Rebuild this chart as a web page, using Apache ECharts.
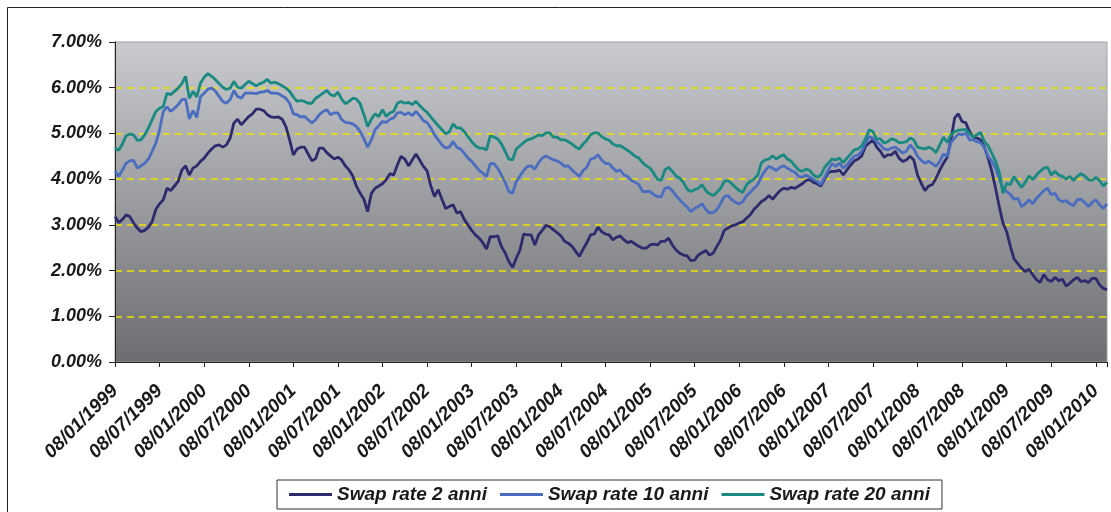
<!doctype html>
<html>
<head>
<meta charset="UTF-8">
<title>Swap rate</title>
<script src="https://cdn.jsdelivr.net/npm/echarts@6/dist/echarts.min.js"></script>
<style>
html, body { margin:0; padding:0; background:#fff; }
#chart { width:1111px; height:512px; }
</style>
</head>
<body>
<div id="chart"></div>
<script type="text/javascript">
// tick labels, one every 6 months (x unit = half year)
var tickLabels = ['08/01/1999','08/07/1999','08/01/2000','08/07/2000','08/01/2001','08/07/2001',
	'08/01/2002','08/07/2002','08/01/2003','08/07/2003','08/01/2004','08/07/2004','08/01/2005',
	'08/07/2005','08/01/2006','08/07/2006','08/01/2007','08/07/2007','08/01/2008','08/07/2008',
	'08/01/2009','08/07/2009','08/01/2010'];
var seriesNames = ['Swap rate 2 anni', 'Swap rate 10 anni', 'Swap rate 20 anni'];
// values read every half month (12 per tick interval)
var pointsPerTick = 12;

var swap2 = [3.18,3.05,3.12,3.22,3.18,3.04,2.93,2.85,2.88,2.95,
	3.07,3.34,3.46,3.55,3.80,3.75,3.85,3.95,4.20,4.29,
	4.09,4.24,4.29,4.39,4.46,4.57,4.66,4.73,4.75,4.70,
	4.75,4.90,5.23,5.31,5.19,5.28,5.37,5.43,5.53,
	5.53,5.50,5.41,5.36,5.35,5.36,5.31,5.15,4.86,4.53,
	4.66,4.70,4.70,4.55,4.40,4.45,4.68,4.68,4.58,4.51,
	4.44,4.48,4.42,4.29,4.20,4.07,3.84,3.69,3.56,3.29,
	3.69,3.80,3.85,3.90,3.99,4.12,4.09,4.31,
	4.50,4.44,4.29,4.42,4.55,4.42,4.28,4.18,3.85,3.62,
	3.77,3.56,3.36,3.40,3.44,3.26,3.29,3.12,3.00,2.88,
	2.78,2.71,2.61,2.47,2.74,2.74,2.76,2.53,2.39,2.20,
	2.07,2.27,2.45,2.80,2.78,2.78,2.56,2.78,2.88,
	2.99,2.96,2.89,2.83,2.76,2.64,2.60,2.53,2.42,2.31,
	2.47,2.61,2.78,2.80,2.95,2.85,2.80,2.78,2.67,2.73,
	2.76,2.67,2.61,2.64,2.58,2.53,2.49,2.49,2.56,2.58,
	2.56,2.64,2.64,2.71,2.56,2.45,2.38,2.34,
	2.32,2.22,2.23,2.34,2.39,2.44,2.34,2.38,2.53,2.67,
	2.88,2.93,2.98,3.00,3.04,3.07,3.15,3.22,3.34,3.42,
	3.51,3.56,3.64,3.56,3.66,3.75,3.80,3.78,3.82,3.80,
	3.85,3.90,3.97,3.99,3.93,3.90,3.85,4.00,4.15,
	4.17,4.17,4.20,4.09,4.20,4.31,4.40,4.44,4.51,4.72,
	4.79,4.86,4.70,4.61,4.48,4.53,4.53,4.61,4.46,4.39,
	4.42,4.50,4.42,4.09,3.91,3.75,3.85,3.88,4.02,4.20,
	4.35,4.48,4.86,5.34,5.43,5.26,5.23,5.04,
	4.92,4.90,4.86,4.70,4.46,4.17,3.80,3.40,3.04,2.85,
	2.53,2.25,2.15,2.05,1.98,2.03,1.91,1.80,1.74,1.91,
	1.80,1.76,1.85,1.78,1.81,1.66,1.72,1.80,1.85,1.76,
	1.78,1.74,1.83,1.83,1.69,1.61,1.58];

var swap10 = [4.17,4.06,4.20,4.35,4.40,4.41,4.24,4.29,4.35,4.44,
	4.61,4.79,5.08,5.48,5.58,5.48,5.55,5.63,5.74,5.75,
	5.32,5.50,5.35,5.80,5.88,5.97,5.99,5.93,5.81,5.70,
	5.66,5.74,5.94,5.81,5.77,5.88,5.88,5.88,5.87,
	5.90,5.91,5.94,5.88,5.88,5.87,5.82,5.77,5.66,5.43,
	5.41,5.36,5.37,5.30,5.23,5.30,5.41,5.48,5.52,5.41,
	5.45,5.45,5.30,5.24,5.23,5.21,5.15,5.04,4.88,4.70,
	4.86,5.08,5.17,5.26,5.24,5.31,5.34,5.45,
	5.46,5.41,5.45,5.39,5.48,5.39,5.28,5.24,5.12,4.97,
	4.86,4.75,4.68,4.70,4.82,4.70,4.66,4.57,4.46,4.39,
	4.29,4.19,4.13,4.06,4.34,4.34,4.24,4.09,3.93,3.73,
	3.69,3.95,4.07,4.19,4.28,4.29,4.22,4.36,4.46,
	4.51,4.46,4.42,4.40,4.35,4.28,4.29,4.20,4.13,4.06,
	4.19,4.26,4.44,4.46,4.53,4.42,4.34,4.34,4.24,4.17,
	4.20,4.09,4.06,3.97,3.93,3.88,3.73,3.73,3.73,3.66,
	3.62,3.61,3.80,3.82,3.75,3.64,3.55,3.46,
	3.39,3.29,3.36,3.40,3.46,3.34,3.26,3.27,3.33,3.47,
	3.62,3.64,3.55,3.49,3.46,3.51,3.64,3.71,3.80,3.88,
	4.06,4.19,4.28,4.24,4.19,4.26,4.29,4.24,4.19,4.15,
	4.06,4.04,4.09,4.04,4.00,3.95,3.88,4.04,4.20,
	4.34,4.28,4.35,4.24,4.31,4.42,4.50,4.53,4.61,4.79,
	4.93,4.90,4.82,4.75,4.66,4.64,4.68,4.70,4.64,4.57,
	4.61,4.75,4.66,4.50,4.41,4.35,4.39,4.34,4.28,4.39,
	4.55,4.50,4.80,4.90,4.99,4.97,5.01,4.86,
	4.86,4.82,4.79,4.70,4.50,4.39,4.24,4.02,3.80,3.73,
	3.66,3.56,3.58,3.40,3.46,3.55,3.46,3.58,3.66,3.75,
	3.80,3.66,3.69,3.55,3.51,3.53,3.46,3.42,3.55,3.56,
	3.49,3.40,3.49,3.55,3.44,3.36,3.46];

var swap20 = [4.68,4.63,4.77,4.95,4.99,4.97,4.85,4.86,4.97,5.12,
	5.30,5.48,5.55,5.59,5.88,5.85,5.92,5.99,6.09,6.25,
	5.77,5.92,5.80,6.10,6.23,6.31,6.25,6.18,6.09,6.01,
	5.96,5.99,6.14,6.01,5.99,6.07,6.14,6.09,6.04,
	6.09,6.12,6.18,6.10,6.12,6.09,6.04,5.99,5.92,5.80,
	5.70,5.72,5.70,5.66,5.66,5.77,5.82,5.88,5.94,5.85,
	5.82,5.90,5.75,5.65,5.70,5.77,5.75,5.65,5.41,5.15,
	5.31,5.43,5.37,5.52,5.37,5.45,5.48,5.66,
	5.70,5.66,5.68,5.63,5.70,5.61,5.53,5.46,5.36,5.26,
	5.17,5.08,4.99,5.04,5.21,5.12,5.12,5.04,4.93,4.82,
	4.73,4.68,4.68,4.64,4.95,4.92,4.88,4.77,4.61,4.44,
	4.42,4.66,4.73,4.80,4.86,4.88,4.92,4.97,4.95,
	5.01,5.01,4.92,4.92,4.86,4.86,4.82,4.77,4.70,4.66,
	4.77,4.85,4.97,5.01,5.01,4.93,4.88,4.85,4.77,4.73,
	4.73,4.68,4.63,4.57,4.50,4.46,4.36,4.29,4.24,4.13,
	4.00,3.97,4.20,4.26,4.17,4.07,4.02,3.93,
	3.78,3.73,3.77,3.80,3.88,3.75,3.68,3.64,3.71,3.80,
	3.95,3.97,3.90,3.82,3.75,3.71,3.88,3.95,4.00,4.09,
	4.36,4.42,4.44,4.51,4.44,4.50,4.53,4.44,4.39,4.29,
	4.20,4.17,4.22,4.19,4.09,4.04,4.09,4.26,4.35,
	4.44,4.42,4.46,4.36,4.46,4.55,4.64,4.66,4.73,4.88,
	5.08,5.04,4.88,4.88,4.79,4.82,4.88,4.86,4.80,4.80,
	4.82,4.90,4.86,4.70,4.68,4.66,4.70,4.66,4.58,4.75,
	4.92,4.80,4.97,5.04,5.07,5.08,5.09,4.99,
	4.92,4.97,5.02,4.82,4.73,4.57,4.39,4.15,3.69,3.91,
	3.88,4.06,3.93,3.82,3.93,4.07,3.99,4.09,4.17,4.24,
	4.26,4.09,4.17,4.09,4.06,4.00,4.06,3.97,4.06,4.12,
	4.07,3.99,3.97,4.04,3.97,3.85,3.93];

var seriesColors = ['#2d2a6e', '#4a6dc0', '#198a82'];
var labelFont = 'Liberation Sans, Arial, sans-serif';

function toPoints(arr) {
	var out = [];
	for (var i = 0; i < arr.length; i++) {
		out.push([i / pointsPerTick, arr[i]]);
	}
	return out;
}

var lastX = (swap2.length - 1) / pointsPerTick;
var myChart = echarts.init(document.getElementById('chart'));
var option = {
	animation: false,
	graphic: [{
		type: 'rect',
		shape: { x: 7.5, y: 7.5, width: 1120, height: 520 },
		style: { fill: 'none', stroke: '#222', lineWidth: 1 },
		silent: true
	}],
	grid: {
		left: 115, top: 42, width: 992, height: 320,
		show: true,
		borderColor: '#a0a0a0',
		borderWidth: 1,
		backgroundColor: {
			type: 'linear', x: 0, y: 0, x2: 0, y2: 1,
			colorStops: [{ offset: 0, color: '#cacbce' }, { offset: 1, color: '#6c6d71' }]
		}
	},
	legend: {
		data: seriesNames,
		left: 277, top: 480,
		padding: [5, 12],
		itemGap: 13,
		itemWidth: 43,
		itemHeight: 3,
		icon: 'rect',
		backgroundColor: '#fff',
		borderColor: '#333',
		borderWidth: 1,
		borderRadius: 0,
		textStyle: { fontFamily: labelFont, fontStyle: 'italic', fontWeight: 'bold', fontSize: 19, color: '#1a1a1a' }
	},
	xAxis: {
		type: 'value',
		min: 0, max: lastX, interval: 1,
		splitLine: { show: false },
		axisLine: { lineStyle: { color: '#222', width: 1 } },
		axisTick: { length: 5, lineStyle: { color: '#222' } },
		axisLabel: {
			rotate: 45, margin: 26,
			fontFamily: labelFont, fontStyle: 'italic', fontWeight: 'bold', fontSize: 19, color: '#1a1a1a',
			formatter: function (v) {
				var s = tickLabels[Math.round(v)];
				return (Math.abs(v - Math.round(v)) < 1e-6 && s) ? s : '';
			}
		}
	},
	yAxis: {
		type: 'value',
		min: 0, max: 7, interval: 1,
		axisLine: { show: true, lineStyle: { color: '#222', width: 1 } },
		axisTick: { show: true, length: 6, lineStyle: { color: '#222' } },
		axisLabel: {
			margin: 13,
			fontFamily: labelFont, fontStyle: 'italic', fontWeight: 'bold', fontSize: 18, color: '#1a1a1a',
			formatter: function (v) { return v.toFixed(2) + '%'; }
		},
		splitLine: {
			show: true, showMinLine: false, showMaxLine: false,
			lineStyle: { color: '#f0e400', width: 1.5, type: [7, 5] }
		}
	},
	series: [
		{ name: seriesNames[0], type: 'line', data: toPoints(swap2), showSymbol: false, lineStyle: { width: 2.8, color: seriesColors[0] }, itemStyle: { color: seriesColors[0] } },
		{ name: seriesNames[1], type: 'line', data: toPoints(swap10), showSymbol: false, lineStyle: { width: 2.8, color: seriesColors[1] }, itemStyle: { color: seriesColors[1] } },
		{ name: seriesNames[2], type: 'line', data: toPoints(swap20), showSymbol: false, lineStyle: { width: 2.8, color: seriesColors[2] }, itemStyle: { color: seriesColors[2] } }
	]
};
myChart.setOption(option);
</script>
</body>
</html>
